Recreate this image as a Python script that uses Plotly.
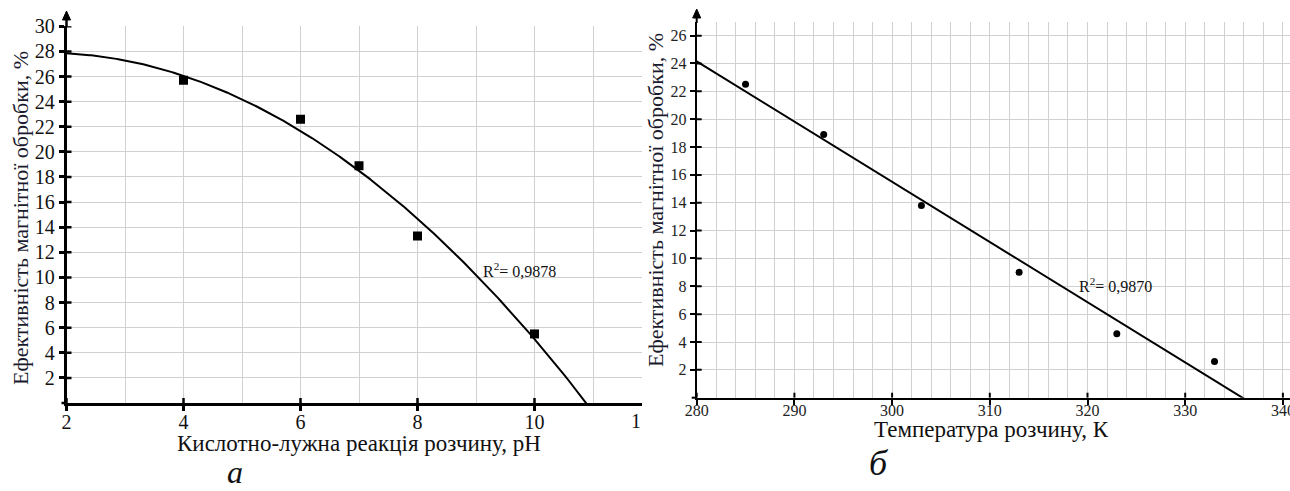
import numpy as np
import plotly.graph_objects as go

W, H = 1290, 491

# ---------------- data ----------------
ph_values = [4, 6, 7, 8, 10]
eff_ph = [25.7, 22.6, 18.9, 13.3, 5.5]

temp_values = [285, 293, 303, 313, 323, 333]
eff_temp = [22.5, 18.9, 13.8, 9.0, 4.6, 2.6]

ph_x_ticks = [2, 4, 6, 8, 10]
ph_y_ticks = [2, 4, 6, 8, 10, 12, 14, 16, 18, 20, 22, 24, 26, 28, 30]
temp_x_ticks = [280, 290, 300, 310, 320, 330, 340]
temp_y_ticks = [2, 4, 6, 8, 10, 12, 14, 16, 18, 20, 22, 24, 26]

r2_ph_text = "R<sup>2</sup>= 0,9878"
r2_temp_text = "R<sup>2</sup>= 0,9870"
title_y = "Ефективність магнітної обробки, %"
title_x_ph = "Кислотно-лужна реакція розчину, pH"
title_x_temp = "Температура розчину, К"
label_a = "а"
label_b = "б"

# trendlines fitted from the data (as the spreadsheet trendlines)
c_ph = np.polyfit(ph_values, eff_ph, 2)
c_t = np.polyfit(temp_values, eff_temp, 1)
ph_curve_x = np.linspace(2, 11.8, 300)
ph_curve_y = np.polyval(c_ph, ph_curve_x)
t_curve_x = np.linspace(280, 340, 200)
t_curve_y = np.polyval(c_t, t_curve_x)

FONT = "Liberation Serif, Times New Roman, serif"
GRID = "#d0d0d0"

def fx(p):
    return p / W

def fy(p):
    return 1 - p / H

fig = go.Figure()

# left chart
fig.add_trace(go.Scatter(x=ph_curve_x, y=ph_curve_y, mode="lines",
                         line=dict(color="black", width=2),
                         xaxis="x", yaxis="y", hoverinfo="skip"))
fig.add_trace(go.Scatter(x=ph_values, y=eff_ph, mode="markers",
                         marker=dict(symbol="square", size=9, color="black"),
                         xaxis="x", yaxis="y"))
# right chart
fig.add_trace(go.Scatter(x=t_curve_x, y=t_curve_y, mode="lines",
                         line=dict(color="black", width=2),
                         xaxis="x2", yaxis="y2", hoverinfo="skip"))
fig.add_trace(go.Scatter(x=temp_values, y=eff_temp, mode="markers",
                         marker=dict(symbol="circle", size=7, color="black"),
                         xaxis="x2", yaxis="y2"))

x1_range = [2, 2 + (642 - 66.5) / 58.5]
y1_range = [0, 30]
x2_range = [280, 280 + (1290 - 696.7) / 9.77]
y2_range = [0, 27]

common = dict(showline=True, linecolor="black", zeroline=False, automargin=False,
              ticks="outside", tickcolor="black", ticklen=5)

fig.update_layout(
    width=W, height=H,
    autosize=False,
    margin=dict(l=0, r=0, t=0, b=0, pad=0, autoexpand=False),
    paper_bgcolor="white", plot_bgcolor="white",
    showlegend=False,
    font=dict(family=FONT, color="#111111"),
    xaxis=dict(domain=[fx(66.5), fx(642)], range=x1_range, anchor="y",
               tickmode="array", tickvals=ph_x_ticks,
               ticktext=[str(v) for v in ph_x_ticks],
               tickfont=dict(size=20, family=FONT, color="#111111"),
               ticklabelstandoff=-6,
               showgrid=True, gridcolor=GRID, gridwidth=1.3,
               minor=dict(tickmode="linear", tick0=2, dtick=1, showgrid=True,
                          gridcolor=GRID, gridwidth=1.3, ticks=""),
               linewidth=2.5, tickwidth=2.5, **common),
    yaxis=dict(domain=[fy(403), fy(26.3)], range=y1_range, anchor="x",
               tickmode="array", tickvals=ph_y_ticks,
               ticktext=[str(v) for v in ph_y_ticks],
               tickfont=dict(size=20, family=FONT, color="#111111"),
               showgrid=True, gridcolor=GRID, gridwidth=1.3,
               linewidth=2.5, tickwidth=2.5, **common),
    xaxis2=dict(domain=[fx(696.7), 1.0], range=x2_range, anchor="y2",
                tickmode="array", tickvals=temp_x_ticks,
                ticktext=[str(v) for v in temp_x_ticks],
                tickfont=dict(size=16, family=FONT, color="#222222"),
                ticklabeloverflow="allow", ticklabelstandoff=-8,
                showgrid=True, gridcolor=GRID, gridwidth=1,
                minor=dict(tickmode="linear", tick0=280, dtick=2, showgrid=True,
                           gridcolor=GRID, gridwidth=1, ticks=""),
                linewidth=2, tickwidth=2, **common),
    yaxis2=dict(domain=[fy(397.7), fy(21.7)], range=y2_range, anchor="x2",
                tickmode="array", tickvals=temp_y_ticks,
                ticktext=[str(v) for v in temp_y_ticks],
                tickfont=dict(size=16, family=FONT, color="#222222"),
                showgrid=True, gridcolor=GRID, gridwidth=1,
                linewidth=2, tickwidth=2, **common),
)

shapes = []
# inner halves of the crossing tick marks, placed at the axis tick values
def inner_x_ticks(xref, yref, vals, lw):
    return [dict(type="line", xref=xref, yref=yref, x0=v, x1=v,
                 ysizemode="pixel", yanchor=0, y0=0, y1=5,
                 line=dict(color="black", width=lw)) for v in vals]

def inner_y_ticks(xref, yref, vals, x_anchor, lw):
    return [dict(type="line", xref=xref, yref=yref, y0=v, y1=v,
                 xsizemode="pixel", xanchor=x_anchor, x0=0, x1=5,
                 line=dict(color="black", width=lw)) for v in vals]

shapes += inner_x_ticks("x", "y", ph_x_ticks, 2.5)
shapes += inner_y_ticks("x", "y", ph_y_ticks, x1_range[0], 2.5)
shapes += inner_x_ticks("x2", "y2", temp_x_ticks, 2)
shapes += inner_y_ticks("x2", "y2", temp_y_ticks, x2_range[0], 2)

# axis decorations: arrowheads at the top of the y axes, stub at the origin
def arrow_shapes(xp, y_top, y_base, lw):
    x0 = fx(xp)
    return [
        dict(type="line", xref="paper", yref="paper", x0=x0, x1=x0,
             y0=fy(y_base), y1=fy(y_top + 6), line=dict(color="black", width=lw)),
        dict(type="path", xref="paper", yref="paper",
             path=f"M {fx(xp - 4)} {fy(y_top + 9)} L {x0} {fy(y_top)} L {fx(xp + 4)} {fy(y_top + 9)} Z",
             fillcolor="black", line=dict(color="black", width=1)),
    ]

def origin_stub(xp, yp, lw):
    return [dict(type="line", xref="paper", yref="paper", x0=fx(xp - 5), x1=fx(xp),
                 y0=fy(yp), y1=fy(yp), line=dict(color="black", width=lw))]

shapes += (arrow_shapes(66.5, 11, 27, 2.5) + arrow_shapes(696.7, 9, 23, 2)
           + origin_stub(66.5, 403, 2.5) + origin_stub(696.7, 397.7, 2))
fig.update_layout(shapes=shapes)

ann = []
# axis titles
ann.append(dict(x=fx(21), y=fy(218), xref="paper", yref="paper", text=title_y,
                textangle=-90, showarrow=False, xanchor="center", yanchor="middle",
                font=dict(size=22, family=FONT, color="#1a1a2e")))
ann.append(dict(x=fx(655), y=fy(200), xref="paper", yref="paper", text=title_y,
                textangle=-90, showarrow=False, xanchor="center", yanchor="middle",
                font=dict(size=22, family=FONT, color="#1a1a2e")))
ann.append(dict(x=fx(359), y=fy(443), xref="paper", yref="paper", text=title_x_ph,
                showarrow=False, xanchor="center", yanchor="middle",
                font=dict(size=23, family=FONT, color="#111111")))
ann.append(dict(x=fx(991), y=fy(429), xref="paper", yref="paper", text=title_x_temp,
                showarrow=False, xanchor="center", yanchor="middle",
                font=dict(size=23, family=FONT, color="#111111")))
# panel labels
ann.append(dict(x=fx(235), y=0, xref="paper", yref="paper",
                text="<i>" + label_a + "</i>", showarrow=False,
                xanchor="center", yanchor="bottom", borderpad=0,
                font=dict(size=32, family=FONT, color="#111111")))
ann.append(dict(x=fx(879), y=fy(463), xref="paper", yref="paper",
                text="<i>" + label_b + "</i>", showarrow=False,
                xanchor="center", yanchor="middle",
                font=dict(size=36, family=FONT, color="#111111")))
# R^2 labels
ann.append(dict(x=fx(481), y=fy(270), xref="paper", yref="paper", text=r2_ph_text,
                showarrow=False, xanchor="left", yanchor="middle",
                font=dict(size=16, family=FONT, color="#111111")))
ann.append(dict(x=fx(1077), y=fy(285), xref="paper", yref="paper", text=r2_temp_text,
                showarrow=False, xanchor="left", yanchor="middle",
                font=dict(size=16, family=FONT, color="#111111")))
# clipped tick label of the left chart (cut by the right panel)
ann.append(dict(x=fx(643), y=fy(421), xref="paper", yref="paper", text="1",
                showarrow=False, xanchor="right", yanchor="middle",
                font=dict(size=20, family=FONT, color="#111111")))

fig.update_layout(annotations=ann)

fig.write_html("out.html")
